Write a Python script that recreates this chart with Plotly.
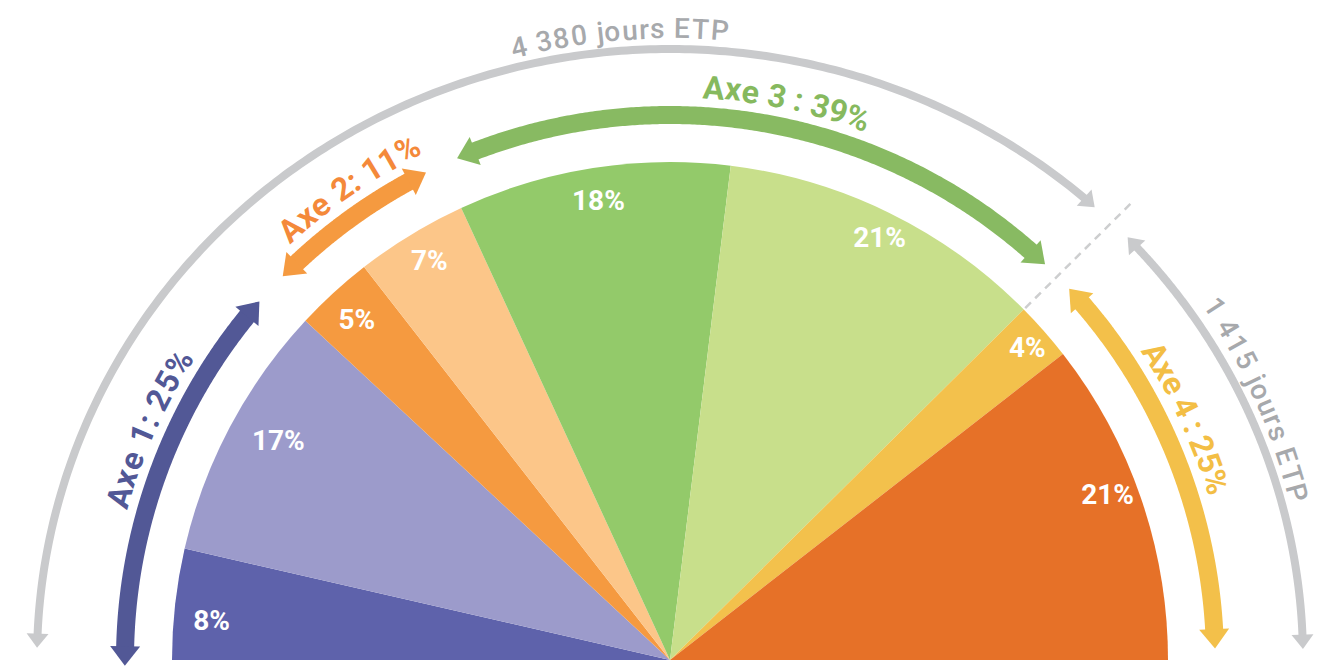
import numpy as np
import plotly.graph_objects as go

# ---------------- data ----------------
slice_labels = ["8%", "17%", "5%", "7%", "18%", "21%", "4%", "21%"]
slice_shares = [7.2, 16.7, 5.1, 7.3, 17.7, 21.3, 3.8, 21.1]   # shares as drawn
slice_colors = ["#5E62AB", "#9C9BCB", "#F59A40", "#FCC689",
                "#93CA6A", "#C8DF8B", "#F3C14C", "#E67128"]

axis_names = ["Axe 1: 25%", "Axe 2: 11%", "Axe 3 : 39%", "Axe 4 : 25%"]
axis_first_slice = [0, 2, 4, 6]
axis_last_slice = [2, 4, 6, 8]
axis_arc_colors = ["#525896", "#F59A40", "#88BA62", "#F3C04A"]
axis_text_colors = ["#525896", "#F4893A", "#86B95E", "#F3BE45"]

total_names = ["4 380 jours ETP", "1 415 jours ETP"]
total_first_slice = [0, 6]
total_last_slice = [6, 8]
GREY = "#C9CACC"
GREY_TXT = "#A7A9AC"

# label placement tweaks (layout only)
LABEL_DTHETA = [1.8, -1.1, 0.3, -0.1, 0.0, -0.4, -0.4, 1.5]
LABEL_R = [460, 448, 461, 464, 463, 469, 473, 467]

# ---------------- geometry helpers ----------------
total = sum(slice_shares)
cum = np.concatenate([[0.0], np.cumsum(slice_shares)])
bound = 180.0 - cum / total * 180.0
mids = (bound[:-1] + bound[1:]) / 2
widths = np.array(slice_shares) / total * 180.0

RP = 652          # pixel radius of the polar subplot (1 unit = 1 px)
PIE_R = 498
AXIS_R = 545
GA, GB = 633.0, 611.0   # grey arc (slightly elliptical)


def grey_r(theta):
    t = np.radians(theta)
    return GA * GB / np.sqrt((GB * np.cos(t)) ** 2 + (GA * np.sin(t)) ** 2)


def axis_r(theta):
    return np.full_like(np.asarray(theta, float), AXIS_R)


fig = go.Figure()

# slices
fig.add_trace(go.Barpolar(
    r=[PIE_R] * len(slice_shares), theta=mids, width=widths,
    marker=dict(color=slice_colors, line=dict(width=0)),
    hoverinfo="skip", showlegend=False))

# dashed separator at the axis-3/axis-4 boundary
sep = bound[6]
fig.add_trace(go.Scatterpolar(
    r=[500, 655], theta=[sep, sep], mode="lines",
    line=dict(color="#CDCECF", width=2.5, dash="8px,6px"),
    hoverinfo="skip", showlegend=False))


def add_arc(t_start, t_end, rfunc, lw, color, head):
    r0 = float(rfunc(t_start))
    r1 = float(rfunc(t_end))
    c0 = t_start - np.degrees(0.5 * head / r0)   # marker centres
    c1 = t_end + np.degrees(0.5 * head / r1)
    th = np.linspace(c0, c1, 240)
    fig.add_trace(go.Scatterpolar(
        r=rfunc(th), theta=th, mode="lines",
        line=dict(color=color, width=lw),
        hoverinfo="skip", showlegend=False))
    fig.add_trace(go.Scatterpolar(
        r=[float(rfunc(c0)), float(rfunc(c1))], theta=[c0, c1], mode="markers",
        marker=dict(symbol="triangle-up", size=head, color=color,
                    angle=[-c0, 180 - c1], line=dict(width=0)),
        hoverinfo="skip", showlegend=False))


GAP = 1.8
for i0, i1, col in zip(axis_first_slice, axis_last_slice, axis_arc_colors):
    ts = bound[i0] - GAP if i0 > 0 else 180.6
    te = bound[i1] + GAP if i1 < len(slice_shares) else 1.2
    add_arc(ts, te, axis_r, 18, col, 26)

for i0, i1 in zip(total_first_slice, total_last_slice):
    ts = bound[i0] - 2.0 if i0 > 0 else 178.9
    te = bound[i1] + 2.1 if i1 < len(slice_shares) else 1.0
    add_arc(ts, te, grey_r, 8, GREY, 19)

# percentage labels
fig.add_trace(go.Scatterpolar(
    r=LABEL_R, theta=mids + np.array(LABEL_DTHETA), mode="text", text=slice_labels,
    textfont=dict(family="Roboto", size=28, color="white", weight="bold"),
    hoverinfo="skip", showlegend=False))

# invisible cartesian overlay for curved text
fig.add_trace(go.Scatter(x=[], y=[], xaxis="x", yaxis="y",
                         hoverinfo="skip", showlegend=False))

CHAR_W = {" ": 0.25, "j": 0.244, "o": 0.57, "u": 0.551, "r": 0.338, "s": 0.516,
          "E": 0.568, "T": 0.60, "P": 0.63, "A": 0.665, "x": 0.509, "e": 0.529,
          ":": 0.263, "%": 0.732}
annotations = []


def curved_text(text, theta_c, radius, size, length, color, weight):
    adv = np.array([CHAR_W.get(c, 0.562) for c in text])
    k = length / adv.sum()
    centers = (np.cumsum(adv) - adv / 2) * k - length / 2
    for ch, s in zip(text, centers):
        if ch == " ":
            continue
        th = theta_c - np.degrees(s / radius)
        t = np.radians(th)
        annotations.append(dict(
            x=radius * np.cos(t), y=radius * np.sin(t), xref="x", yref="y",
            text=ch, textangle=90 - th, showarrow=False,
            xanchor="center", yanchor="middle",
            font=dict(family="Roboto", size=size, color=color, weight=weight)))


axis_text_theta = [156.1, 124.2, 78.2, 25.1]
axis_text_len = [172, 165, 171, 164]
for name, th, L, col in zip(axis_names, axis_text_theta, axis_text_len, axis_text_colors):
    curved_text(name, th, 574, 32, L, col, 700)

total_text_theta = [94.6, 23.9]
total_text_len = [222, 224]
for name, th, L in zip(total_names, total_text_theta, total_text_len):
    curved_text(name, th, float(grey_r(th)) + 20, 28, L, GREY_TXT, 500)

fig.update_layout(
    width=1340, height=667,
    margin=dict(l=10, r=1340 - 10 - 2 * RP, t=0, b=667 - RP),
    paper_bgcolor="white", plot_bgcolor="rgba(0,0,0,0)",
    showlegend=False, hovermode=False,
    polar=dict(
        domain=dict(x=[0, 1], y=[0, 1]),
        sector=[0, 180], hole=0, bargap=0,
        bgcolor="rgba(0,0,0,0)",
        radialaxis=dict(range=[0, RP], visible=False),
        angularaxis=dict(visible=False, direction="counterclockwise", rotation=0),
    ),
    xaxis=dict(range=[-RP, RP], visible=False, domain=[0, 1], fixedrange=True),
    yaxis=dict(range=[0, RP], visible=False, domain=[0, 1], fixedrange=True),
    annotations=annotations,
)

fig.write_html("out.html")
